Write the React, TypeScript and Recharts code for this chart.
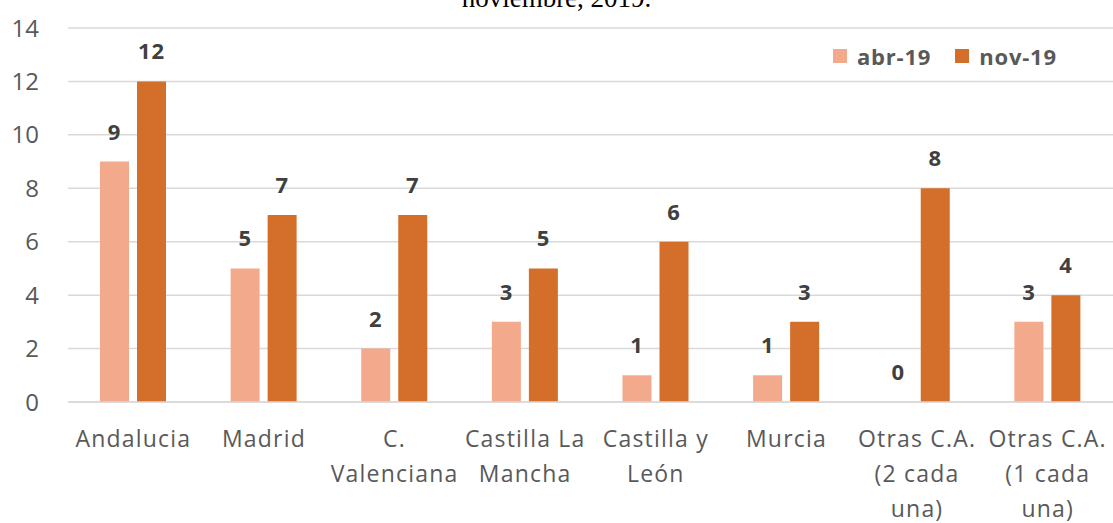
import React from 'react'
import { BarChart, Bar, XAxis, YAxis, CartesianGrid, LabelList } from 'recharts'

const categories = [
  'Andalucia',
  'Madrid',
  'C. Valenciana',
  'Castilla La Mancha',
  'Castilla y León',
  'Murcia',
  'Otras C.A. (2 cada una)',
  'Otras C.A. (1 cada una)',
]
const abr19 = [9, 5, 2, 3, 1, 1, 0, 3]
const nov19 = [12, 7, 7, 5, 6, 3, 8, 4]
const yTicks = [0, 2, 4, 6, 8, 10, 12, 14]

const ABR = '#F3A98B'
const NOV = '#D36E2B'
const FONT = '"Open Sans", sans-serif'
const TICK_SIZE = 23
const TICK_SPACING = 1.2

const data = categories.map((name, i) => ({ name, abr: abr19[i], nov: nov19[i] }))

let ctx: CanvasRenderingContext2D | null = null
function measure(s: string) {
  if (!ctx) {
    ctx = document.createElement('canvas').getContext('2d')
  }
  if (!ctx) return s.length * TICK_SIZE * 0.55
  ctx.font = `${TICK_SIZE}px ${FONT}`
  return ctx.measureText(s).width + s.length * TICK_SPACING
}

function wrap(label: string, maxWidth: number) {
  const lines: string[] = []
  let cur = ''
  label.split(' ').forEach((w) => {
    const next = cur ? cur + ' ' + w : w
    if (cur && measure(next) > maxWidth) {
      lines.push(cur)
      cur = w
    } else {
      cur = next
    }
  })
  if (cur) lines.push(cur)
  return lines
}

function CategoryTick(props: any) {
  const { x, payload } = props
  const lines = wrap(payload.value, 131)
  return (
    <text
      x={x}
      y={447}
      textAnchor="middle"
      fill="#595959"
      style={{ fontFamily: FONT, fontSize: TICK_SIZE, letterSpacing: TICK_SPACING }}
    >
      {lines.map((l, i) => (
        <tspan key={i} x={x} dy={i === 0 ? 0 : 35}>
          {l}
        </tspan>
      ))}
    </text>
  )
}

function ValueLabel(props: any) {
  const { x, y, width, value } = props
  return (
    <text
      x={Number(x) + Number(width) / 2}
      y={Number(y) - 22}
      textAnchor="middle"
      fill="#404040"
      style={{ fontFamily: FONT, fontSize: 22, fontWeight: 700, letterSpacing: 0.8 }}
    >
      {value}
    </text>
  )
}

function LegendBox() {
  const item = (label: string, color: string) => (
    <span style={{ display: 'inline-flex', alignItems: 'center', marginRight: 24 }}>
      <span style={{ width: 14, height: 14, background: color, display: 'inline-block', marginRight: 10 }} />
      <span
        style={{ fontFamily: FONT, fontSize: 22, fontWeight: 700, color: '#595959', lineHeight: '24px', letterSpacing: 0.8 }}
      >
        {label}
      </span>
    </span>
  )
  return (
    <div style={{ position: 'absolute', top: 44, left: 833, display: 'flex' }}>
      {item('abr-19', ABR)}
      {item('nov-19', NOV)}
    </div>
  )
}

export default function App() {
  return (
    <div style={{ position: 'absolute', left: 0, top: 0, width: 1113, height: 523, overflow: 'hidden', background: '#fff' }}>
      <BarChart
        width={1113}
        height={523}
        data={data}
        margin={{ top: 28, right: 0, bottom: 0, left: 0 }}
        barSize={29}
        barGap={8}
      >
        <CartesianGrid vertical={false} stroke="#D9D9D9" strokeWidth={1.5} />
        <XAxis
          dataKey="name"
          height={121}
          axisLine={{ stroke: '#D9D9D9', strokeWidth: 1.5 }}
          tickLine={false}
          interval={0}
          tick={<CategoryTick />}
        />
        <YAxis
          width={68}
          domain={[0, 14]}
          ticks={yTicks}
          axisLine={false}
          tickLine={false}
          tickSize={0}
          tickMargin={29}
          tick={{ fill: '#595959', fontSize: 24, fontFamily: FONT }}
        />
        <Bar
          dataKey="abr"
          fill={ABR}
          isAnimationActive={false}
          minPointSize={(v: any) => (v === 0 ? 0.01 : 0)}
        >
          <LabelList dataKey="abr" content={<ValueLabel />} />
        </Bar>
        <Bar dataKey="nov" fill={NOV} isAnimationActive={false}>
          <LabelList dataKey="nov" content={<ValueLabel />} />
        </Bar>
      </BarChart>
      <LegendBox />
      <div
        style={{
          position: 'absolute',
          top: -15,
          left: 0,
          width: 1113,
          textAlign: 'center',
          fontFamily: '"Liberation Serif", serif',
          fontSize: 27,
          lineHeight: '27px',
          color: '#000',
        }}
      >
        noviembre, 2019.
      </div>
    </div>
  )
}
